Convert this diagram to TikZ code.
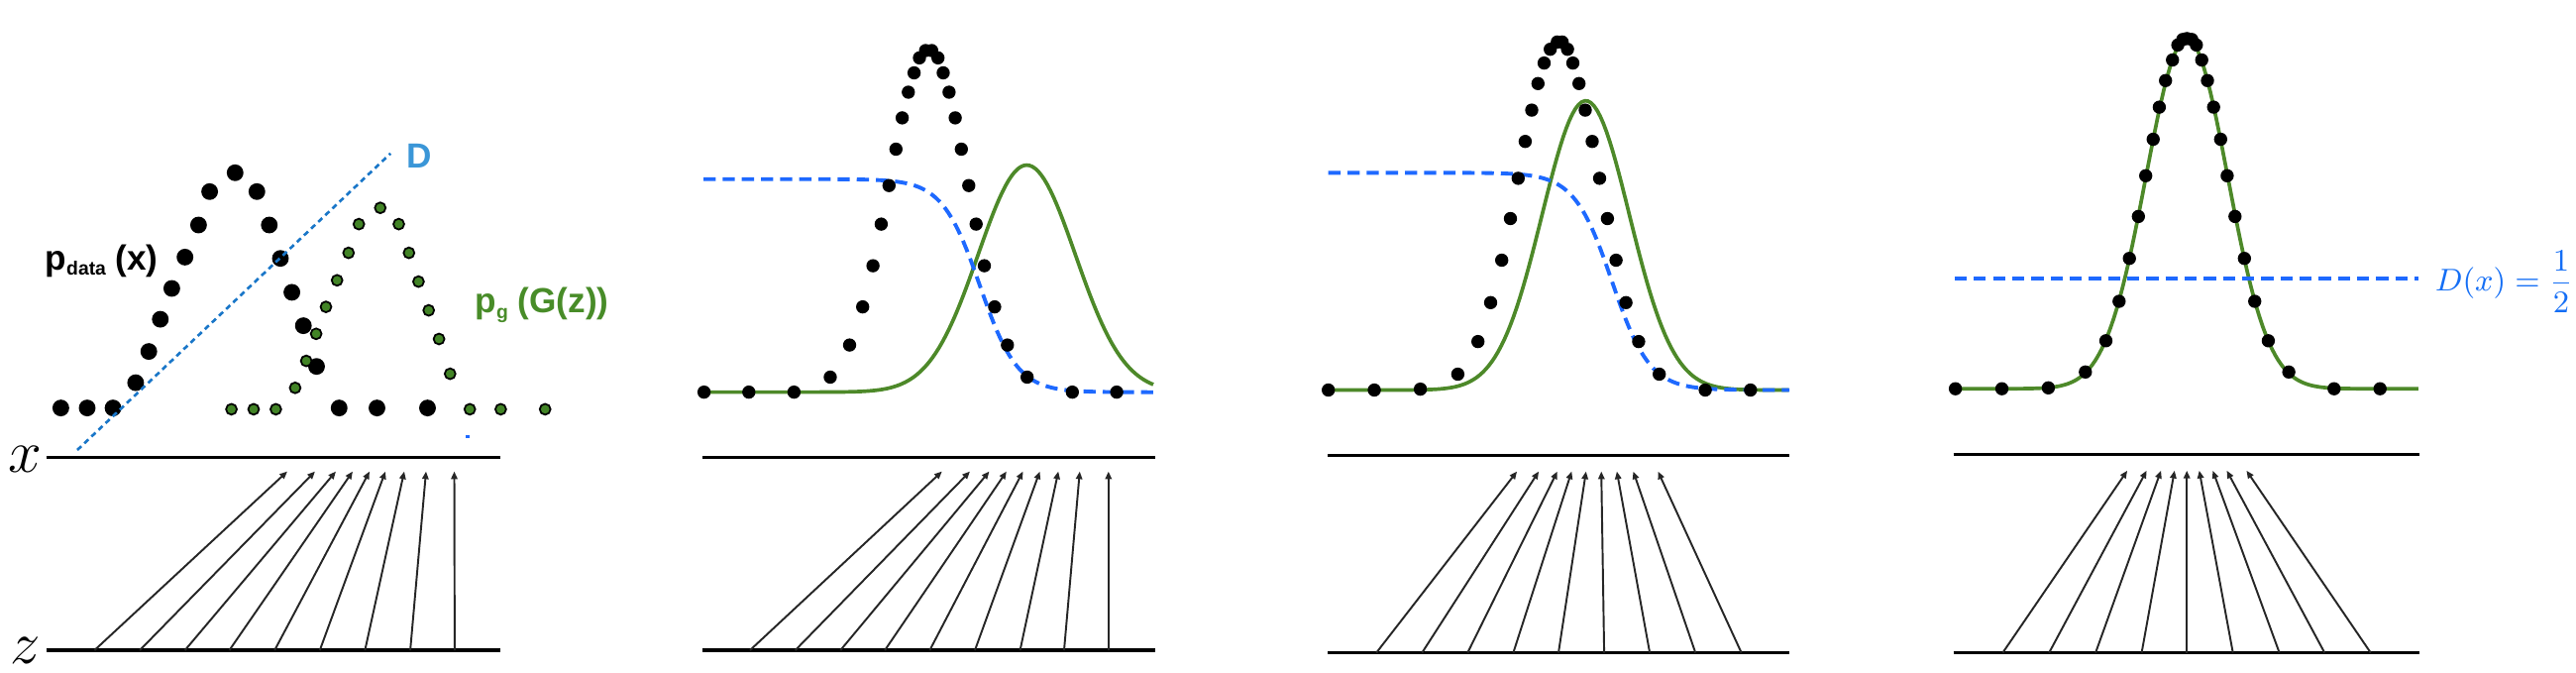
\documentclass[tikz,border=0pt]{standalone}
\usepackage{fontspec}
\usepackage{tikz}
\usetikzlibrary{arrows.meta}
\newfontfamily\labelsans{Liberation Sans}
\definecolor{gangreen}{RGB}{77,137,41}
\definecolor{gandotgreen}{RGB}{66,132,38}
\definecolor{ganlabelgreen}{RGB}{72,140,40}
\definecolor{ganblue}{RGB}{30,105,255}
\definecolor{ganmathblue}{RGB}{20,110,245}
\definecolor{ganlblue}{RGB}{25,118,200}
\definecolor{ganlabelblue}{RGB}{58,150,215}
\tikzset{
  axis line/.style={draw=black, line width=1pt},
  map arrow/.style={-{Triangle[length=2.2pt,width=1.8pt]}, line width=0.55pt, draw=black!85},
  data dot/.style={fill=black},
  gen dot/.style={fill=gandotgreen, draw=black, line width=0.5pt},
  gen curve/.style={draw=gangreen, line width=1.05pt},
  disc curve/.style={draw=ganblue, line width=1.1pt, dash pattern=on 3.5pt off 2pt},
  disc line/.style={draw=ganlblue, line width=0.75pt, dash pattern=on 1.6pt off 1.2pt},
  axis label/.style={inner sep=0pt, font=\fontsize{18.5}{18}\selectfont},
  dist label/.style={inner sep=0pt, anchor=west, font=\fontsize{10}{12}\selectfont\labelsans\bfseries}
}
\begin{document}
\begin{tikzpicture}[x=0.01cm, y=-0.01cm]
  \useasboundingbox (0,0) rectangle (2600,678);

  % panel 1
  \coordinate (x1l) at (46.5,461.5);   \coordinate (x1r) at (505.4,461.5);
  \coordinate (z1l) at (46.5,656);     \coordinate (z1r) at (505.4,656);
  \draw[axis line] (x1l) -- (x1r);
  \draw[axis line] (z1l) -- (z1r);
  \node[axis label] (xlab) at (25,463) {$x$};
  \node[axis label] (zlab) at (26,656) {$z$};
  \foreach \b/\t [count=\i] in {95.4/290, 141.1/318, 186.7/339, 231.5/356, 277.2/373,
                                322.8/389, 368.4/408, 414.1/430, 458.9/458.5} {
    \coordinate (za\i) at (\b,656);
    \coordinate (xa\i) at (\t,475.6);
    \draw[map arrow] (za\i) -- (xa\i);
  }
  \foreach \px/\py in {61.4/411.6, 88/411.6, 114.1/411.6, 136.9/386.1, 150.2/354.6,
      161.8/322.1, 173.4/291, 186.7/259.4, 200.4/227, 211.6/193.3, 237.3/174.3,
      259.3/193.3, 271.8/227, 283/260.7, 294.6/294.9, 306.2/328.6, 319.5/369.7,
      342.3/411.6, 380.5/411.6, 431.5/411.6}
    \fill[data dot] (\px,\py) circle[radius=2.4pt];
  \foreach \px/\py in {233.6/412.9, 256/412.9, 278.4/412.9, 297.9/391.3, 309.1/364.1,
      319.1/336.8, 329/309.6, 340.2/282.8, 351.8/255.1, 362.2/226.1, 383.8/209.7,
      402.5/226.1, 412.8/255.1, 422.4/284.1, 432.7/313.1, 443.1/342, 454.3/377.1,
      474.2/412.9, 505.4/412.9, 550.2/412.9}
    \filldraw[gen dot] (\px,\py) circle[radius=1.55pt];
  \coordinate (dlo) at (78,454);  \coordinate (dhi) at (394.2,154.8);
  \draw[disc line] (dlo) -- (dhi);
  \draw[ganblue, line width=0.8pt] (470,440.7) -- (474,440.7);
  \node[dist label, text=ganlabelblue] (dlab) at (410,157.5) {D};
  \node[dist label] (pdata) at (45,263.3) {p\raisebox{-0.3ex}{\fontsize{5.5}{6}\selectfont data} (x)};
  \node[dist label, text=ganlabelgreen] (pgen) at (479,308) {p\raisebox{-0.3ex}{\fontsize{5.5}{6}\selectfont g} (G(z))};

  % panel 2
  \coordinate (x2l) at (708.9,461.4);  \coordinate (x2r) at (1165.7,461.4);
  \coordinate (z2l) at (708.9,656);    \coordinate (z2r) at (1165.7,656);
  \draw[axis line] (x2l) -- (x2r);
  \draw[axis line] (z2l) -- (z2r);
  \foreach \b/\t [count=\i] in {757/950.8, 802.7/979, 848.3/998.5, 893.1/1015.9, 938.4/1032.5,
                                984/1049.5, 1029.6/1068.2, 1074/1089.8, 1118.8/1118.8} {
    \coordinate (zb\i) at (\b,656);
    \coordinate (xb\i) at (\t,475.6);
    \draw[map arrow] (zb\i) -- (xb\i);
  }
  \draw[gen curve] plot[domain=710:1164, samples=150] (\x,{395.6-229*exp(-0.5*((\x-1036.3)/49)^2)});
  \draw[disc curve] plot[domain=710:1165, samples=150] (\x,{180.7+215/(1+exp(max(min((989-\x)/19,9),-9)))});
  \foreach \px/\py in {710.6/395.6, 755.8/395.6, 801.4/395.6, 838/380.5, 857.5/348.1,
      870.7/309.6, 881.1/268.1, 889.4/226.1, 897.3/187.2, 904.3/150.5, 910.6/118.9,
      916.8/93, 922.6/73.5, 928/58.4, 934.2/51, 940.4/51, 946.7/58.4, 952/73.5,
      957.9/93, 964.1/118.9, 970.3/150.5, 977.8/187.2, 985.2/226.1, 993.5/268.1,
      1003.9/309.6, 1016.8/348.1, 1036.7/380.5, 1082.3/395.6, 1127.1/395.6}
    \fill[data dot] (\px,\py) circle[radius=1.9pt];

  % panel 3
  \coordinate (x3l) at (1340.2,459.6); \coordinate (x3r) at (1806.2,459.6);
  \coordinate (z3l) at (1340.2,658.5); \coordinate (z3r) at (1806.2,658.5);
  \draw[axis line] (x3l) -- (x3r);
  \draw[axis line] (z3l) -- (z3r);
  \foreach \b/\t [count=\i] in {1389.2/1531.1, 1435.3/1553.1, 1481.3/1571.8, 1527.4/1586.3, 1573/1600.8,
                                1619.1/1616.2, 1665.1/1631.9, 1711.2/1648.5, 1757.6/1673.4} {
    \coordinate (zc\i) at (\b,658.5);
    \coordinate (xc\i) at (\t,475.6);
    \draw[map arrow] (zc\i) -- (xc\i);
  }
  \draw[gen curve] plot[domain=1340.7:1805.4, samples=150] (\x,{393.5-291.8*exp(-0.5*((\x-1600.5)/44)^2)});
  \draw[disc curve] plot[domain=1340.7:1806, samples=150] (\x,{174.3+219.2/(1+exp(max(min((1627-\x)/19,9),-9)))});
  \foreach \px/\py in {1340.7/393.5, 1387.1/393.5, 1433.6/392.6, 1471.4/377.5, 1491.7/344.6,
      1504.5/305.3, 1515.7/262.5, 1524.5/220.5, 1532.3/179.9, 1539.4/142.7, 1546/111.1,
      1552.3/84.3, 1558.5/63.6, 1564.7/49.7, 1571.8/42.4, 1576.7/42.4, 1582.1/49.7,
      1587.5/63.6, 1593.7/84.3, 1600/111.1, 1607/142.7, 1614.5/179.9, 1622.4/220.5,
      1631.1/262.5, 1641.1/305.3, 1653.9/344.6, 1674.7/377.5, 1721.1/393.5, 1766.8/393.5}
    \fill[data dot] (\px,\py) circle[radius=1.9pt];

  % panel 4
  \coordinate (x4l) at (1971.6,458.3); \coordinate (x4r) at (2441.7,458.3);
  \coordinate (z4l) at (1971.6,658.5); \coordinate (z4r) at (2441.7,658.5);
  \draw[axis line] (x4l) -- (x4r);
  \draw[axis line] (z4l) -- (z4r);
  \foreach \b/\t [count=\i] in {2021.4/2147.1, 2068.2/2166.6, 2115.1/2181.1, 2161.6/2194.8, 2207.2/2207.2,
                                2253.7/2219.7, 2300.6/2233.4, 2346.2/2247.5, 2392.7/2267.4} {
    \coordinate (zd\i) at (\b,658.5);
    \coordinate (xd\i) at (\t,474.8);
    \draw[map arrow] (zd\i) -- (xd\i);
  }
  \draw[gen curve] plot[domain=1973.6:2440.8, samples=150] (\x,{392.2-353.3*exp(-0.5*((\x-2207.2)/41.2)^2)});
  \coordinate (dhl) at (1972.8,281); \coordinate (dhr) at (2440.8,281);
  \draw[disc curve] (dhl) -- (dhr);
  \node[anchor=east, inner sep=0pt, text=ganmathblue, font=\fontsize{8.8}{10}\selectfont] (dhalf)
    at (2598,284) {$D(x)=\displaystyle\frac{1}{2}$};
  \foreach \px/\py in {1973.6/392.2, 2020.5/392.2, 2067.4/391.3, 2104.8/375.3, 2125.5/343.8,
      2138.8/304, 2149.2/260.7, 2158.3/218.4, 2165.7/177.3, 2173.2/140.5, 2179.4/108.1,
      2185.7/81.3, 2192.7/60.5, 2198.1/45.4, 2203.1/39.8, 2207.2/38.9, 2212.2/39.8,
      2216.8/45.4, 2222.2/60.5, 2228/81.3, 2234.2/108.1, 2241.3/140.5, 2247.9/177.3,
      2255.8/218.4, 2265.3/260.7, 2275.7/304, 2289.4/343.8, 2310.1/375.3, 2355.8/392.2,
      2402.2/392.2}
    \fill[data dot] (\px,\py) circle[radius=1.9pt];
\end{tikzpicture}
\end{document}
